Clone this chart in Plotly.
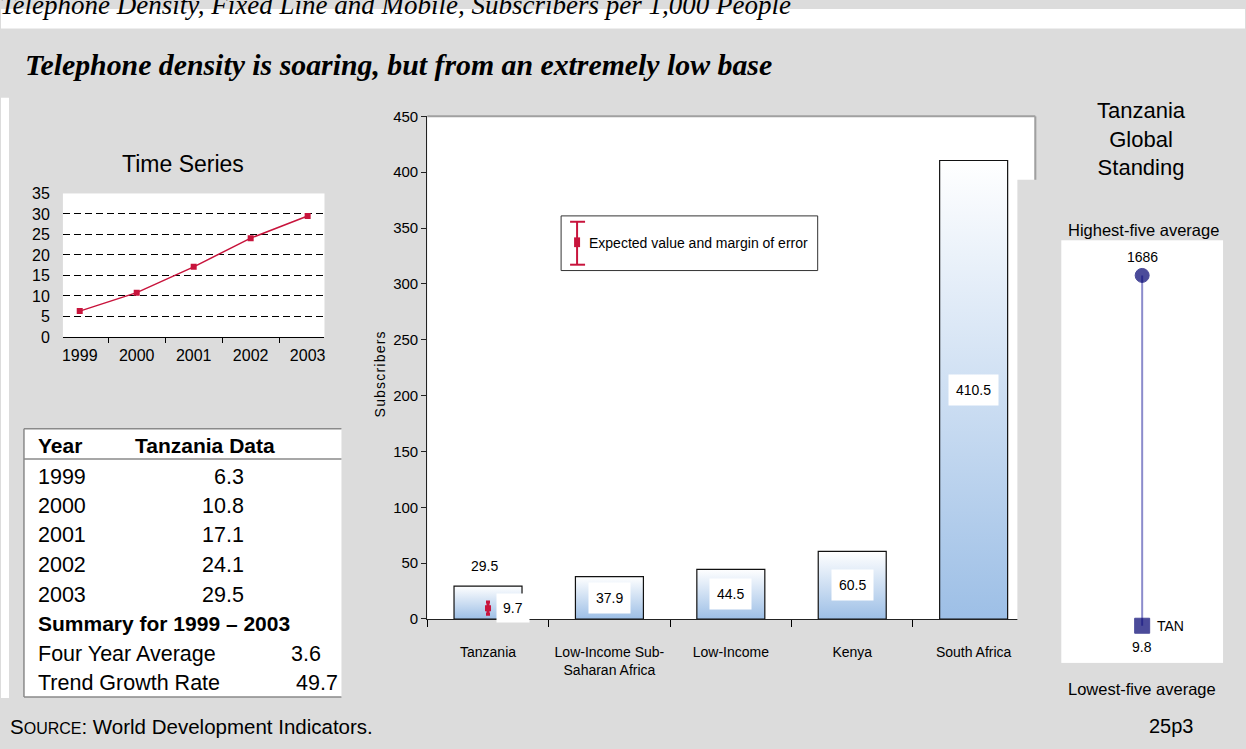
import plotly.graph_objects as go

W, H = 1246, 749

# Time series of Tanzania telephone density
years = ["1999", "2000", "2001", "2002", "2003"]
tz_density = [6.3, 10.8, 17.1, 24.1, 29.5]

# Comparison groups (subscribers per 1,000 people)
groups = ["Tanzania", "Low-Income Sub-<br>Saharan Africa", "Low-Income", "Kenya", "South Africa"]
group_values = [29.5, 37.9, 44.5, 60.5, 410.5]
expected_value = [9.7]
margin_of_error = [5.5]

# Global standing
standing_values = [9.8, 1686]
standing_code = "TAN"

# Summary rows
summary_labels = ["Four Year Average", "Trend Growth Rate"]
summary_values = [3.6, 49.7]

SANS = "Liberation Sans, Arial, sans-serif"
NARROW = "Liberation Sans Narrow, Arial Narrow, Liberation Sans, Arial, sans-serif"
SERIF = "Liberation Serif, Times New Roman, serif"
CRIMSON = "#C8143C"
NAVY = "#000070"
GREY = "#DCDCDC"


def px(x, y):
    """Pixel position on the page -> paper coordinates."""
    return x / W, 1 - y / H


def dom_x(a, b):
    return [a / W, b / W]


def dom_y(top, bottom):
    return [1 - bottom / H, 1 - top / H]


fig = go.Figure()

# ---- time series (left) ----
fig.add_trace(go.Scatter(
    x=years, y=tz_density, mode="lines+markers",
    line=dict(color=CRIMSON, width=1.5),
    marker=dict(symbol="square", size=6, color=CRIMSON),
    xaxis="x", yaxis="y", hoverinfo="skip",
))

# ---- comparison bars (centre) ----
bar_w = 0.56
for i, v in enumerate(group_values):
    x0, x1 = i - bar_w / 2, i + bar_w / 2
    fig.add_trace(go.Scatter(
        x=[x0, x0, x1, x1, x0], y=[0, v, v, 0, 0],
        mode="lines", fill="toself",
        fillgradient=dict(type="vertical",
                          colorscale=[[0, "#9DBFE6"], [1, "#FFFFFF"]]),
        line=dict(color="#111111", width=1.2),
        xaxis="x2", yaxis="y2", hoverinfo="skip",
    ))

fig.add_trace(go.Scatter(
    x=[0], y=expected_value, mode="markers",
    marker=dict(symbol="square", size=6, color=CRIMSON),
    error_y=dict(type="data", array=margin_of_error, color=CRIMSON,
                 thickness=3, width=2),
    xaxis="x2", yaxis="y2", hoverinfo="skip",
))

# ---- global standing (right) ----
fig.add_trace(go.Scatter(
    x=[0, 0], y=standing_values, mode="lines",
    line=dict(color="#8C8CCC", width=2),
    xaxis="x3", yaxis="y3", hoverinfo="skip",
))
fig.add_trace(go.Scatter(
    x=[0, 0], y=standing_values, mode="markers",
    marker=dict(symbol=["square", "circle"], size=[15, 14], color=NAVY,
                line=dict(color=NAVY, width=1)),
    xaxis="x3", yaxis="y3", hoverinfo="skip",
))

annotations = []
shapes = []


def text(x, y, s, size, family=SANS, xanchor="center", color="#000", **kw):
    ax, ay = px(x, y)
    annotations.append(dict(
        x=ax, y=ay, xref="paper", yref="paper", text=s, showarrow=False,
        xanchor=xanchor, yanchor="middle",
        font=dict(family=family, size=size, color=color), **kw))


def rect(x0, y0, x1, y1, fill=None, line=None, lw=1, layer="below"):
    a0, b0 = px(x0, y0)
    a1, b1 = px(x1, y1)
    shapes.append(dict(
        type="rect", xref="paper", yref="paper", x0=a0, y0=b1, x1=a1, y1=b0,
        fillcolor=fill if fill else "rgba(0,0,0,0)",
        line=dict(color=line if line else "rgba(0,0,0,0)", width=lw if line else 0),
        layer=layer))


def seg(x0, y0, x1, y1, color, lw=1, layer="below"):
    a0, b0 = px(x0, y0)
    a1, b1 = px(x1, y1)
    shapes.append(dict(type="line", xref="paper", yref="paper",
                       x0=a0, y0=b0, x1=a1, y1=b1,
                       line=dict(color=color, width=lw), layer=layer))


# page background pieces
rect(0, 0, W, 20, fill="white")
rect(0, 91, 8, 706, fill="white")

# headings
text(-3, -4, "<i>Telephone Density, Fixed Line and Mobile, Subscribers per 1,000 People</i>",
     27, family=SERIF, xanchor="left")
text(22, 57, "<b><i>Telephone density is soaring, but from an extremely low base</i></b>",
     29.8, family=SERIF, xanchor="left")

# time series title
text(182, 159, "Time Series", 23)

# summary table
rect(23, 430, 341, 705, fill="white")
seg(23, 430, 341, 430, "#8A8A8A", 1.5)
seg(23, 705, 341, 705, "#8A8A8A", 1.5)
seg(23, 430, 23, 705, "#8A8A8A", 1.5)
seg(23, 461, 341, 461, "#8A8A8A", 1.5)
text(35, 447, "<b>Year</b>", 21, xanchor="left")
text(132, 447, "<b>Tanzania Data</b>", 21, xanchor="left")
row_y = [480, 509, 539, 570, 600]
for yr, v, yy in zip(years, tz_density, row_y):
    text(35, yy, yr, 21.5, xanchor="left")
    text(245, yy, f"{v:.1f}", 21.5, xanchor="right")
text(35, 630, f"<b>Summary for {years[0]} – {years[-1]}</b>", 21, xanchor="left")
for lab, v, yy, xr in zip(summary_labels, summary_values, [661, 691], [323, 340]):
    text(35, yy, lab, 21.5, xanchor="left")
    text(xr, yy, f"{v:.1f}", 21.5, xanchor="right")

# bar value labels
for i, v in enumerate(group_values):
    if i == 0:
        annotations.append(dict(
            x=i, y=v, xref="x2", yref="y2", text=f"{v:.1f}", showarrow=False,
            yanchor="bottom", yshift=10, xshift=-4,
            font=dict(family=NARROW, size=14, color="#000")))
    else:
        annotations.append(dict(
            x=i, y=v / 2, xref="x2", yref="y2", text=f"{v:.1f}", showarrow=False,
            bgcolor="white", borderpad=7,
            font=dict(family=NARROW, size=14, color="#000")))
annotations.append(dict(
    x=0, y=expected_value[0], xref="x2", yref="y2", text=f"{expected_value[0]:.1f}",
    showarrow=False, xanchor="left", xshift=8, bgcolor="white", borderpad=6,
    font=dict(family=NARROW, size=14, color="#000")))

# y-axis title of the bar chart
text(380, 374, "<span style='letter-spacing:1.2px'>Subscribers</span>", 14,
     family=NARROW, textangle=-90)

# legend box
rect(561, 212, 818, 268, fill="white", line="#333333", lw=1, layer="above")
seg(577, 218, 577, 262, CRIMSON, 2, layer="above")
seg(570, 218, 585, 218, CRIMSON, 2, layer="above")
seg(570, 262, 585, 262, CRIMSON, 2, layer="above")
rect(574, 234, 580, 244, fill=CRIMSON, layer="above")
text(587, 240, "Expected value and margin of error", 14, family=NARROW, xanchor="left")

# frame of the bar chart and the panel edge overlapping it
seg(427, 110, 1036, 110, "#A0A0A0", 2, layer="above")
seg(1036, 110, 1036, 176, "#A0A0A0", 2, layer="above")
rect(1018, 175, 1050, 749, fill=GREY, layer="above")

# standing panel texts
text(1142, 133, "Tanzania<br>Global<br>Standing", 22)
text(1144, 226, "Highest-five average", 16.5)
text(1143, 697, "Lowest-five average", 16.5)
annotations.append(dict(x=0, y=standing_values[1], xref="x3", yref="y3",
                        text=f"{standing_values[1]:.0f}", showarrow=False, yshift=18,
                        font=dict(family=SANS, size=14, color="#000")))
annotations.append(dict(x=0, y=standing_values[0], xref="x3", yref="y3",
                        text=f"{standing_values[0]:.1f}", showarrow=False, yshift=-21,
                        font=dict(family=SANS, size=14, color="#000")))
annotations.append(dict(x=0, y=standing_values[0], xref="x3", yref="y3",
                        text=standing_code, showarrow=False, xanchor="left", xshift=13,
                        font=dict(family=SANS, size=14, color="#000")))

# footer
text(7, 735, "S<span style='font-size:16px'>OURCE</span>: World Development Indicators.",
     20.5, xanchor="left")
text(1172, 735, "25p3", 20)

fig.update_layout(
    width=W, height=H, margin=dict(l=0, r=0, t=0, b=0),
    paper_bgcolor=GREY, plot_bgcolor="white", showlegend=False,
    annotations=annotations, shapes=shapes,
    xaxis=dict(domain=dom_x(62, 324), anchor="y", type="category", tickson="boundaries",
               ticks="outside", ticklen=5, tickcolor="#000", showline=True,
               linecolor="#000", linewidth=1, showgrid=False, fixedrange=True,
               tickfont=dict(family=SANS, size=16, color="#000"), ticklabelstandoff=4),
    yaxis=dict(domain=dom_y(189, 336), anchor="x", range=[0, 35], dtick=5, showgrid=True,
               gridcolor="#000", griddash="7px,4px", gridwidth=1, zeroline=False,
               showline=False, ticks="", ticklabelstandoff=12,
               tickfont=dict(family=SANS, size=16, color="#000")),
    xaxis2=dict(domain=dom_x(427, 1035), anchor="y2", range=[-0.5, 4.5],
                tickvals=list(range(len(groups))),
                ticktext=groups, ticks="", showline=True, linecolor="#222", linewidth=1.2,
                showgrid=False, zeroline=False, ticklabelstandoff=20,
                minor=dict(tickvals=[i - 0.5 for i in range(len(groups) + 1)],
                           ticks="outside", ticklen=7, tickcolor="#000", showgrid=False),
                tickfont=dict(family=NARROW, size=14, color="#000")),
    yaxis2=dict(domain=dom_y(110, 625), anchor="x2", range=[0, 450], dtick=50, showgrid=False,
                zeroline=False, showline=True, linecolor="#222", linewidth=1.2,
                ticks="outside", ticklen=5, tickcolor="#222",
                tickfont=dict(family=NARROW, size=15, color="#000")),
    xaxis3=dict(domain=dom_x(1062, 1224), anchor="y3", range=[-1, 1], visible=False),
    yaxis3=dict(domain=dom_y(237, 670), anchor="x3", range=[-168, 1854], visible=False),
)

fig.write_html("out.html")
